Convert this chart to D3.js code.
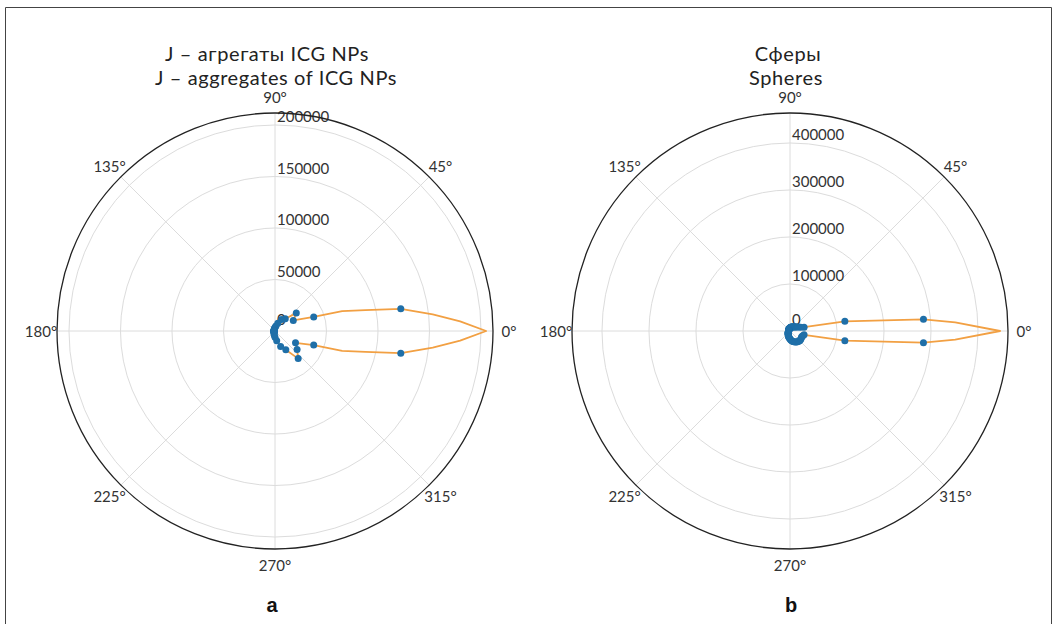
<!DOCTYPE html>
<html>
<head>
<meta charset="utf-8">
<script src="https://cdn.jsdelivr.net/npm/d3@7"></script>
<style>
  html, body { margin: 0; padding: 0; background: #fff; }
  svg { display: block; }
</style>
</head>
<body>
<svg id="fig" width="1057" height="624"></svg>
<script>
// ---------- Panel a: J-aggregates of ICG NPs ----------
const aTitle = ["J – агрегаты ICG NPs", "J – aggregates of ICG NPs"];
const aRadialTicks = [0, 50000, 100000, 150000, 200000];
const aRadialMax = 211650;
// measured intensity per angle (degrees)
const aPointAngles = [10, 20, 30, 40, 50, 60, 70, 80, 90, 100, 110, 120, 130, 140, 150, 160, 170, 180,
                      190, 200, 210, 220, 230, 240, 250, 260, 270, 280, 290, 300, 310, 320, 330, 340, 350];
const aPointValues = [124000, 40000, 20500, 27000, 15500, 13000, 8000, 5000, 3500, 2500, 2000, 1500, 1200, 1000, 1000, 1000, 1000, 1000,
                      1000, 1000, 1000, 1200, 1500, 2000, 2500, 4000, 6000, 9500, 16000, 21000, 35000, 28000, 23000, 40000, 124000];
// extra vertices of the fitted lobe around 0°
const aLobeAngles = [0, 3, 6, 13, 16.5, 343.5, 347, 354, 357];
const aLobeValues = [205000, 180000, 154000, 90000, 68000, 68000, 90000, 154000, 180000];

// ---------- Panel b: spheres ----------
const bTitle = ["Сферы", "Spheres"];
const bRadialTicks = [0, 100000, 200000, 300000, 400000];
const bRadialMax = 463800;
const bPointAngles = [5, 10, 15, 20, 25, 30, 35, 40, 45, 50, 55, 60, 65, 70, 75, 80, 85, 90,
                      95, 100, 105, 110, 115, 120, 125, 130, 135, 140, 145, 150, 155, 160, 165, 170, 175, 180,
                      185, 190, 195, 200, 205, 210, 215, 220, 225, 230, 235, 240, 245, 250, 255, 260, 265, 270,
                      275, 280, 285, 290, 295, 300, 305, 310, 315, 320, 325, 330, 335, 340, 345, 350, 355];
const bPointValues = [285000, 118500, 31000, 24000, 20000, 17000, 15000, 13500, 12500, 11500, 10500, 10000, 9500, 9000, 8500, 8000, 7500, 7000,
                      6500, 6000, 5500, 5000, 4800, 4500, 4200, 4000, 3800, 3600, 3400, 3200, 3000, 3000, 2900, 2800, 2800, 2800,
                      2900, 3000, 3200, 3400, 3700, 4000, 4500, 5000, 5600, 6300, 7000, 8000, 9000, 10500, 12000, 13500, 15000, 17000,
                      19000, 21000, 23000, 24500, 26000, 27000, 28000, 28500, 29000, 29000, 28500, 28000, 28000, 29000, 31000, 118500, 285000];
const bLobeAngles = [0, 3, 357];
const bLobeValues = [447000, 352000, 352000];

// shared angular ticks
const angleTicks = [0, 45, 90, 135, 180, 225, 270, 315];
const panelLetters = ["a", "b"];

const panels = [
  { cx: 275, cy: 331, title: aTitle, titleX: [267, 276], ticks: aRadialTicks, rmax: aRadialMax,
    pa: aPointAngles, pv: aPointValues, la: aLobeAngles, lv: aLobeValues, letter: panelLetters[0], letterX: 272 },
  { cx: 790, cy: 331, title: bTitle, titleX: [788, 786], ticks: bRadialTicks, rmax: bRadialMax,
    pa: bPointAngles, pv: bPointValues, la: bLobeAngles, lv: bLobeValues, letter: panelLetters[1], letterX: 791 }
];

const R = 218;          // outer radius of each polar axis
const labelR = 234;     // radius for the angle labels
const tickFont = "Lato, 'DejaVu Sans', sans-serif";

const svg = d3.select("#fig");
svg.append("rect").attr("width", 1057).attr("height", 624).attr("fill", "#fff");

// figure frame
svg.append("path")
  .attr("d", "M5.5,624 V7.5 H1051.5 V624")
  .attr("fill", "none").attr("stroke", "#444").attr("stroke-width", 1);

const toRad = d => d * Math.PI / 180;

panels.forEach(p => {
  const g = svg.append("g").attr("transform", `translate(${p.cx},${p.cy})`);
  const r = d3.scaleLinear().domain([0, p.rmax]).range([0, R]);

  // radial grid rings
  g.selectAll("circle.ring")
    .data(p.ticks.filter(t => t > 0))
    .join("circle")
    .attr("class", "ring")
    .attr("r", d => r(d))
    .attr("fill", "none").attr("stroke", "#dcdcdc").attr("stroke-width", 1);

  // angular spokes
  g.selectAll("line.spoke")
    .data(angleTicks)
    .join("line")
    .attr("class", "spoke")
    .attr("x1", 0).attr("y1", 0)
    .attr("x2", d => R * Math.cos(toRad(d)))
    .attr("y2", d => -R * Math.sin(toRad(d)))
    .attr("stroke", "#dcdcdc").attr("stroke-width", 1);

  // radial tick labels
  g.selectAll("text.rlab")
    .data(p.ticks)
    .join("text")
    .attr("class", "rlab")
    .attr("x", 2)
    .attr("y", d => -r(d) - (d === 0 ? 12 : 9))
    .attr("dominant-baseline", "central")
    .attr("font-family", tickFont)
    .attr("font-size", 15)
    .attr("fill", "#333")
    .text(d => d);

  // outer boundary
  g.append("circle").attr("r", R)
    .attr("fill", "none").attr("stroke", "#222").attr("stroke-width", 1.3);

  // angle labels
  g.selectAll("text.alab")
    .data(angleTicks)
    .join("text")
    .attr("class", "alab")
    .attr("x", d => labelR * Math.cos(toRad(d)))
    .attr("y", d => -labelR * Math.sin(toRad(d)))
    .attr("text-anchor", "middle")
    .attr("dominant-baseline", "central")
    .attr("font-family", tickFont)
    .attr("font-size", 15)
    .attr("fill", "#333")
    .text(d => d + "°");

  // fitted lobe: measured points plus lobe vertices, ordered by angle
  const pts = p.pa.map((a, i) => ({ a, v: p.pv[i] }));
  const lobe = p.la.map((a, i) => ({ a, v: p.lv[i] }));
  const curvePts = pts.concat(lobe).sort((x, y) => x.a - y.a);
  const radial = d3.lineRadial()
    .angle(d => Math.PI / 2 - toRad(d.a))
    .radius(d => r(d.v))
    .curve(d3.curveLinearClosed);
  g.append("path")
    .attr("d", radial(curvePts))
    .attr("fill", "none").attr("stroke", "#f2a043").attr("stroke-width", 1.8)
    .attr("stroke-linejoin", "round");

  // measured points
  g.selectAll("circle.pt")
    .data(pts)
    .join("circle")
    .attr("class", "pt")
    .attr("cx", d => r(d.v) * Math.cos(toRad(d.a)))
    .attr("cy", d => -r(d.v) * Math.sin(toRad(d.a)))
    .attr("r", 3.5)
    .attr("fill", "#1f6fa8");

  // two-line title
  [60.5, 84.5].forEach((y, i) => {
    svg.append("text").attr("x", p.titleX[i]).attr("y", y)
      .attr("text-anchor", "middle").attr("font-family", "Lato, sans-serif")
      .attr("font-size", 20).attr("letter-spacing", 0.6)
      .attr("fill", "#222").text(p.title[i]);
  });

  // panel letter
  svg.append("text").attr("x", p.letterX).attr("y", 612)
    .attr("text-anchor", "middle")
    .attr("font-family", "'Liberation Sans', Arial, sans-serif")
    .attr("font-weight", "bold").attr("font-size", 20).attr("fill", "#111")
    .text(p.letter);
});
</script>
</body>
</html>
